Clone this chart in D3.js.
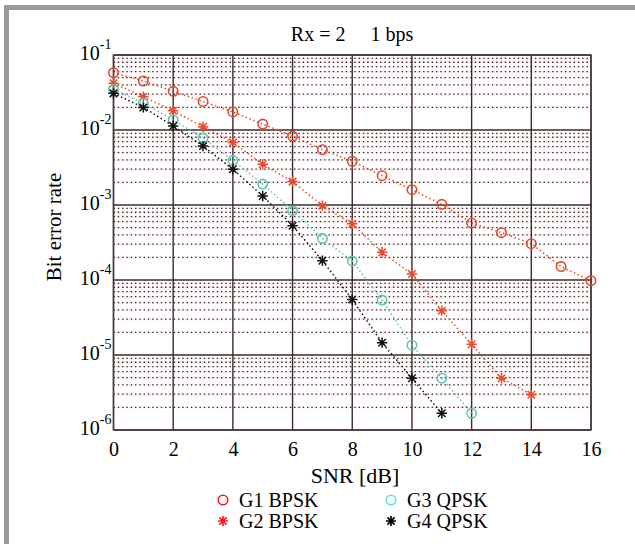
<!DOCTYPE html>
<html><head><meta charset="utf-8">
<script src="https://cdn.jsdelivr.net/npm/d3@7"></script>
<style>body{margin:0;background:#fff}svg{display:block}</style>
</head><body>
<script>
// ---- data ----
const snrG1 = [0,1,2,3,4,5,6,7,8,9,10,11,12,13,14,15,16];
const berG1 = [0.058,0.045,0.0328,0.024,0.0174,0.012,0.0083,0.00546,0.00383,0.00246,0.0016,0.00102,0.000575,0.000427,0.000305,0.000151,0.000098];
const snrG2 = [0,1,2,3,4,5,6,7,8,9,10,11,12,13,14];
const berG2 = [0.042,0.0278,0.0181,0.011,0.0068,0.00349,0.00205,0.00098,0.000563,0.000234,0.00012,3.9e-5,1.39e-5,4.9e-6,2.96e-6];
const snrG3 = [0,1,2,3,4,5,6,7,8,9,10,11,12];
const berG3 = [0.0349,0.0227,0.0136,0.0078,0.00394,0.0019,0.00084,0.00036,0.000179,5.4e-5,1.35e-5,4.9e-6,1.67e-6];
const snrG4 = [0,1,2,3,4,5,6,7,8,9,10,11];
const berG4 = [0.0308,0.02,0.0113,0.0061,0.003,0.00132,0.00053,0.000181,5.5e-5,1.46e-5,4.9e-6,1.67e-6];
const seriesNames = ["G1 BPSK","G2 BPSK","G3 QPSK","G4 QPSK"];
const xTicks = [0,2,4,6,8,10,12,14,16];
const yExponents = [-1,-2,-3,-4,-5,-6];
const titleText = "Rx = 2\u00a0\u00a0\u00a0\u00a0\u00a01 bps";
const xLabel = "SNR [dB]";
const yLabel = "Bit error rate";

const W = 635, H = 544;
const svg = d3.select("body").append("svg").attr("width", W).attr("height", H);
const font = "'Liberation Serif','Times New Roman',serif";

// frame
svg.append("rect").attr("x",4).attr("y",5).attr("width",W-4).attr("height",5).attr("fill","#9a9a9a");
svg.append("rect").attr("x",4).attr("y",5).attr("width",5).attr("height",H-5).attr("fill","#9a9a9a");

const x = d3.scaleLinear().domain([0,16]).range([113.5,591]);
const y = d3.scaleLog().domain([1e-6,1e-1]).range([430,55]);

const g = svg.append("g");
// minor grid
const minors = [];
yExponents.slice(0, 5).forEach(e => { for (let k = 2; k <= 9; k++) minors.push(k * Math.pow(10, e - 1)); });
g.selectAll(".mh").data(minors).enter().append("line")
  .attr("x1", x(0)).attr("x2", x(16)).attr("y1", d => y(d)).attr("y2", d => y(d))
  .attr("stroke", "#fbf1f1").attr("stroke-width", 2.4);
g.selectAll(".mi").data(minors).enter().append("line")
  .attr("x1", x(0)).attr("x2", x(16)).attr("y1", d => y(d)).attr("y2", d => y(d))
  .attr("stroke", "#3a2828").attr("stroke-width", 1.3).attr("stroke-dasharray", "1.4,2.9");
// major grid
g.selectAll(".vx").data(xTicks).enter().append("line")
  .attr("x1", d => x(d)).attr("x2", d => x(d)).attr("y1", y(1e-1)).attr("y2", y(1e-6))
  .attr("stroke", "#3b2a2a").attr("stroke-width", 1.4);
g.selectAll(".hy").data(yExponents).enter().append("line")
  .attr("x1", x(0)).attr("x2", x(16)).attr("y1", d => y(Math.pow(10,d))).attr("y2", d => y(Math.pow(10,d)))
  .attr("stroke", "#3b2a2a").attr("stroke-width", 1.5);
// border
svg.append("rect").attr("x", x(0)).attr("y", y(1e-1)).attr("width", x(16)-x(0)).attr("height", y(1e-6)-y(1e-1))
  .attr("fill","none").attr("stroke","#4a3838").attr("stroke-width",1.4);

// axes (labels only)
const xa = svg.append("g").attr("transform", `translate(0,${y(1e-6)})`)
  .call(d3.axisBottom(x).tickValues(xTicks).tickSize(0).tickPadding(12).tickFormat(d3.format("d")));
xa.select(".domain").remove();
xa.selectAll("text").attr("font-family", font).attr("font-size", 20).attr("fill", "#000");

const ya = svg.append("g").attr("transform", `translate(${x(0)},0)`)
  .call(d3.axisLeft(y).tickValues(yExponents.map(e => Math.pow(10, e))).tickSize(0).tickFormat(""));
ya.select(".domain").remove();
ya.selectAll(".tick").each(function(d) {
  const t = d3.select(this).append("text").attr("font-family", font).attr("fill", "#000")
    .attr("x", -18).attr("dy", "0.4em").attr("text-anchor", "end");
  t.append("tspan").attr("font-size", 20).text("10");
  t.append("tspan").attr("font-size", 14).attr("dy", "-0.75em").text(String(Math.round(Math.log10(d))));
  t.attr("transform", "translate(16,0)");
});

// title and axis labels
svg.append("text").attr("x", 352).attr("y", 41).attr("text-anchor","middle")
  .attr("font-family", font).attr("font-size", 20).text(titleText);
svg.append("text").attr("x", 355).attr("y", 483).attr("text-anchor","middle")
  .attr("font-family", font).attr("font-size", 22).text(xLabel);
svg.append("text").attr("transform", "translate(61,227) rotate(-90)").attr("text-anchor","middle")
  .attr("font-family", font).attr("font-size", 21).text(yLabel);

// series
function star(s) {
  const d = s * 0.72;
  return `M${-s},0L${s},0M0,${-s}L0,${s}M${-d},${-d}L${d},${d}M${-d},${d}L${d},${-d}`;
}
const series = [
  {xs: snrG1, ys: berG1, color: "#e8472c", marker: "circle", lcolor: "#ff1a1a"},
  {xs: snrG2, ys: berG2, color: "#ea4a2c", marker: "star", lcolor: "#ff1a1a"},
  {xs: snrG3, ys: berG3, color: "#5ec4b4", marker: "circle", lcolor: "#55e8c8"},
  {xs: snrG4, ys: berG4, color: "#111111", marker: "star", lcolor: "#000000"}
];
const line = d3.line().x(d => x(d[0])).y(d => y(d[1]));
series.forEach(s => {
  const pts = s.xs.map((v, i) => [v, s.ys[i]]);
  svg.append("path").datum(pts).attr("d", line).attr("fill","none")
    .attr("stroke", s.color).attr("stroke-width", 1.5).attr("stroke-dasharray", "1.5,2.6");
  const m = svg.append("g").selectAll("g").data(pts).enter().append("g")
    .attr("transform", d => `translate(${x(d[0])},${y(d[1])})`);
  if (s.marker === "circle") {
    m.append("circle").attr("r", 4.7).attr("fill","none").attr("stroke", s.color).attr("stroke-width", 1.6);
  } else {
    m.append("path").attr("d", star(5.2)).attr("stroke", s.color).attr("stroke-width", 1.5).attr("fill","none");
  }
});

// legend
const legPos = [[223,500],[223,521],[391,500],[391,521]];
const legOrder = [0,1,2,3];
legOrder.forEach((si, i) => {
  const s = series[si];
  const [lx, ly] = legPos[i];
  const lg = svg.append("g").attr("transform", `translate(${lx},${ly})`);
  if (s.marker === "circle") {
    lg.append("circle").attr("r", 4.8).attr("fill","none").attr("stroke", s.lcolor).attr("stroke-width", 1.6);
  } else {
    lg.append("path").attr("d", star(5)).attr("stroke", s.lcolor).attr("stroke-width", 1.7).attr("fill","none");
  }
  svg.append("text").attr("x", lx + 16).attr("y", ly + 7).attr("font-family", font).attr("font-size", 20)
    .text(seriesNames[si]);
});
</script>
</body></html>
